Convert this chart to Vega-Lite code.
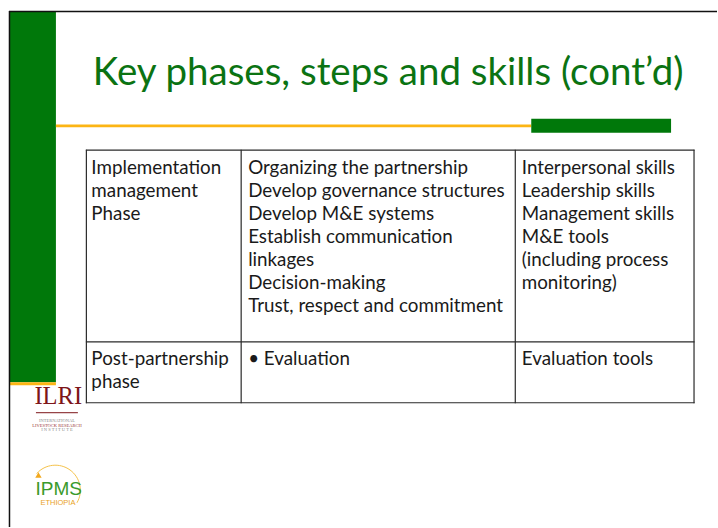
{
  "$schema": "https://vega.github.io/schema/vega-lite/v6.json",
  "width": 718,
  "height": 528,
  "padding": 0,
  "autosize": {"type": "fit", "contains": "padding"},
  "background": "white",
  "config": {"view": {"stroke": null}},
  "datasets": {
    "blocks": [
      {"kind": "green", "x": 10, "x2": 56, "y": 12, "y2": 383},
      {"kind": "gold", "x": 10, "x2": 56, "y": 383, "y2": 386},
      {"kind": "gold", "x": 56, "x2": 532, "y": 124.8, "y2": 127.6},
      {"kind": "green", "x": 532, "x2": 672, "y": 119, "y2": 133}
    ],
    "frame": [
      {"x": 9.5, "x2": 9.5, "y": 11, "y2": 528},
      {"x": 9, "x2": 718, "y": 11.5, "y2": 11.5}
    ],
    "grid": [
      {"x": 86, "x2": 695.5, "y": 150.5, "y2": 150.5},
      {"x": 86, "x2": 695.5, "y": 342.5, "y2": 342.5},
      {"x": 86, "x2": 695.5, "y": 403.5, "y2": 403.5},
      {"x": 86.5, "x2": 86.5, "y": 150, "y2": 404},
      {"x": 241.5, "x2": 241.5, "y": 150, "y2": 404},
      {"x": 516, "x2": 516, "y": 150, "y2": 404},
      {"x": 695, "x2": 695, "y": 150, "y2": 404}
    ],
    "columns": [
      {"col": "phase", "left": 91.5},
      {"col": "steps", "left": 248.5},
      {"col": "skills", "left": 522.5}
    ],
    "rows": [
      {"row": "implementation", "base": 174.5},
      {"row": "post", "base": 366}
    ],
    "cells": [
      {"row": "implementation", "col": "phase", "text": ["Implementation", "management", "Phase"]},
      {"row": "implementation", "col": "steps", "text": ["Organizing the partnership", "Develop governance structures", "Develop M&E systems", "Establish communication", "linkages", "Decision-making", "Trust, respect and commitment"]},
      {"row": "implementation", "col": "skills", "text": ["Interpersonal skills", "Leadership skills", "Management skills", "M&E tools", "(including process", "monitoring)"]},
      {"row": "post", "col": "phase", "text": ["Post-partnership", "phase"]},
      {"row": "post", "col": "steps", "text": ["• Evaluation"]},
      {"row": "post", "col": "skills", "text": ["Evaluation tools"]}
    ],
    "title": [{"x": 93, "y": 85, "text": "Key phases, steps and skills (cont’d)"}],
    "ilri": [{"x": 34.5, "y": 405, "text": "ILRI"}],
    "ilriRule": [{"x": 36, "x2": 78, "y": 413.5, "y2": 413.5}],
    "ilriSmallGray": [
      {"x": 57, "y": 422.5, "text": "INTERNATIONAL"},
      {"x": 57, "y": 432, "text": "I N S T I T U T E"}
    ],
    "ilriSmallRed": [{"x": 57, "y": 427.5, "text": "LIVESTOCK RESEARCH"}],
    "ipms": [{"x": 35.5, "y": 495.5, "text": "IPMS"}],
    "ethiopia": [{"x": 58, "y": 506, "text": "ETHIOPIA"}],
    "ipmsArc": [{"x": 58.5, "y": 487}],
    "ipmsMark": [{"x": 38.5, "y": 476}]
  },
  "layer": [
    {
      "data": {"name": "blocks"},
      "mark": {"type": "rect"},
      "encoding": {
        "x": {"field": "x", "type": "quantitative", "scale": {"domain": [0, 718], "nice": false, "zero": false}, "axis": null},
        "x2": {"field": "x2"},
        "y": {"field": "y", "type": "quantitative", "scale": {"domain": [0, 528], "nice": false, "zero": false, "reverse": true}, "axis": null},
        "y2": {"field": "y2"},
        "color": {"field": "kind", "type": "nominal", "scale": {"domain": ["green", "gold"], "range": ["#00780a", "#fcb514"]}, "legend": null}
      }
    },
    {
      "data": {"name": "frame"},
      "mark": {"type": "rule", "color": "#111111", "strokeWidth": 1.5},
      "encoding": {
        "x": {"field": "x", "type": "quantitative"},
        "x2": {"field": "x2"},
        "y": {"field": "y", "type": "quantitative"},
        "y2": {"field": "y2"}
      }
    },
    {
      "data": {"name": "grid"},
      "mark": {"type": "rule", "color": "#2a2a2a", "strokeWidth": 1.2},
      "encoding": {
        "x": {"field": "x", "type": "quantitative"},
        "x2": {"field": "x2"},
        "y": {"field": "y", "type": "quantitative"},
        "y2": {"field": "y2"}
      }
    },
    {
      "data": {"name": "title"},
      "mark": {"type": "text", "align": "left", "baseline": "alphabetic", "font": "Lato", "fontSize": 38.5, "color": "#0b7312"},
      "encoding": {
        "x": {"field": "x", "type": "quantitative"},
        "y": {"field": "y", "type": "quantitative"},
        "text": {"field": "text"}
      }
    },
    {
      "data": {"name": "cells"},
      "transform": [
        {"lookup": "col", "from": {"data": {"name": "columns"}, "key": "col", "fields": ["left"]}},
        {"lookup": "row", "from": {"data": {"name": "rows"}, "key": "row", "fields": ["base"]}}
      ],
      "mark": {"type": "text", "align": "left", "baseline": "alphabetic", "font": "Lato", "fontSize": 18.8, "lineHeight": 23, "color": "#1a1a1a"},
      "encoding": {
        "x": {"field": "left", "type": "quantitative"},
        "y": {"field": "base", "type": "quantitative"},
        "text": {"field": "text"}
      }
    },
    {
      "data": {"name": "ilri"},
      "mark": {"type": "text", "align": "left", "baseline": "alphabetic", "font": "Liberation Serif", "fontSize": 24.5, "color": "#7d1519"},
      "encoding": {
        "x": {"field": "x", "type": "quantitative"},
        "y": {"field": "y", "type": "quantitative"},
        "text": {"field": "text"}
      }
    },
    {
      "data": {"name": "ilriRule"},
      "mark": {"type": "rule", "color": "#7d1519", "strokeWidth": 1},
      "encoding": {
        "x": {"field": "x", "type": "quantitative"},
        "x2": {"field": "x2"},
        "y": {"field": "y", "type": "quantitative"},
        "y2": {"field": "y2"}
      }
    },
    {
      "data": {"name": "ilriSmallGray"},
      "mark": {"type": "text", "align": "center", "baseline": "alphabetic", "font": "Liberation Serif", "fontSize": 4.5, "color": "#8a8a8a"},
      "encoding": {
        "x": {"field": "x", "type": "quantitative"},
        "y": {"field": "y", "type": "quantitative"},
        "text": {"field": "text"}
      }
    },
    {
      "data": {"name": "ilriSmallRed"},
      "mark": {"type": "text", "align": "center", "baseline": "alphabetic", "font": "Liberation Serif", "fontSize": 4.5, "color": "#9b3a3a"},
      "encoding": {
        "x": {"field": "x", "type": "quantitative"},
        "y": {"field": "y", "type": "quantitative"},
        "text": {"field": "text"}
      }
    },
    {
      "data": {"name": "ipmsArc"},
      "mark": {"type": "point", "shape": "M -0.87 -0.5 A 1 1 0 0 1 0.74 0.67", "filled": false, "stroke": "#f5c24a", "strokeWidth": 1, "opacity": 1, "size": 2500},
      "encoding": {
        "x": {"field": "x", "type": "quantitative"},
        "y": {"field": "y", "type": "quantitative"}
      }
    },
    {
      "data": {"name": "ipmsMark"},
      "mark": {"type": "point", "shape": "triangle-up", "filled": true, "color": "#f2a81d", "opacity": 1, "size": 40},
      "encoding": {
        "x": {"field": "x", "type": "quantitative"},
        "y": {"field": "y", "type": "quantitative"}
      }
    },
    {
      "data": {"name": "ipms"},
      "mark": {"type": "text", "align": "left", "baseline": "alphabetic", "font": "Liberation Sans", "fontSize": 19, "color": "#3a9a2c"},
      "encoding": {
        "x": {"field": "x", "type": "quantitative"},
        "y": {"field": "y", "type": "quantitative"},
        "text": {"field": "text"}
      }
    },
    {
      "data": {"name": "ethiopia"},
      "mark": {"type": "text", "align": "center", "baseline": "alphabetic", "font": "Liberation Sans", "fontSize": 7.5, "color": "#e9a21f"},
      "encoding": {
        "x": {"field": "x", "type": "quantitative"},
        "y": {"field": "y", "type": "quantitative"},
        "text": {"field": "text"}
      }
    }
  ]
}
